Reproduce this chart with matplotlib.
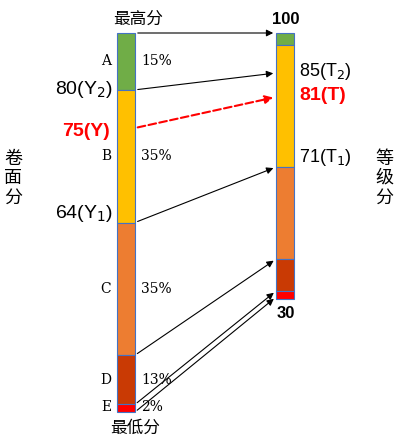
import matplotlib
matplotlib.use("Agg")
import matplotlib.pyplot as plt
from matplotlib.patches import Rectangle

plt.rcParams['font.family'] = ['Noto Sans CJK SC', 'DejaVu Sans']

grades = ["A", "B", "C", "D", "E"]
left_pct = [15, 35, 35, 13, 2]
right_share = [4.5, 45.9, 34.6, 12.0, 3.0]
colors = ["#70AD47", "#FFC000", "#ED7D31", "#C93A04", "#FF0000"]
left_labels = ["80(Y$_2$)", "64(Y$_1$)"]
right_labels = ["85(T$_2$)", "71(T$_1$)"]

fig = plt.figure(figsize=(4.01, 4.42), dpi=100)
ax = fig.add_axes([0, 0, 1, 1])
ax.set_xlim(0, 401); ax.set_ylim(442, 0); ax.axis("off")

LX, RX, W = 117, 276, 18
TOP, LH, RH = 33, 379, 266
SANS = ["Liberation Sans", "DejaVu Sans"]

def bounds(vals, h):
    b = [TOP]; s = sum(vals)
    for v in vals:
        b.append(b[-1] + v / s * h)
    return b

lb = bounds(left_pct, LH); rb = bounds(right_share, RH)
for i in range(5):
    ax.add_patch(Rectangle((LX, lb[i]), W, lb[i+1]-lb[i], fc=colors[i], ec="#4472C4", lw=0.8))
    ax.add_patch(Rectangle((RX, rb[i]), W, rb[i+1]-rb[i], fc=colors[i], ec="#4472C4", lw=0.8))
    ym = (lb[i] + lb[i+1]) / 2
    if i == 4: ym = lb[i] + 3
    ax.text(106, ym, grades[i], ha="center", va="center", fontsize=10, family="DejaVu Serif")
    ax.text(141, ym, f"{left_pct[i]}%", ha="left", va="center", fontsize=10, family="DejaVu Serif")

arr = dict(arrowstyle="-|>", color="black", lw=0.8, mutation_scale=10)
pairs = [(lb[0], rb[0]), (lb[1], 73), (lb[2], rb[2]), (lb[3], rb[3]), (lb[4], 291), (lb[5], 297)]
for yl, yr in pairs:
    ax.annotate("", xy=(RX, yr), xytext=(LX+W, yl), arrowprops=arr)
ax.annotate("", xy=(RX, 97), xytext=(LX+W, 128),
            arrowprops=dict(arrowstyle="-|>", color="#FF0000", lw=1.5, ls="--", mutation_scale=12))

ax.text(138, 19, "最高分", ha="center", va="center", fontsize=12)
ax.text(135, 428, "最低分", ha="center", va="center", fontsize=12)
ax.text(286, 19, "100", ha="center", va="center", fontsize=12, family=SANS, weight="bold")
ax.text(286, 313, "30", ha="center", va="center", fontsize=12, family=SANS, weight="bold")
ax.text(113, 89, left_labels[0], ha="right", va="center", fontsize=14, family=SANS)
ax.text(113, 213, left_labels[1], ha="right", va="center", fontsize=14, family=SANS)
ax.text(110, 131, "75(Y)", ha="right", va="center", fontsize=14, color="#FF0000", weight="bold", family=SANS)
ax.text(299, 72, right_labels[0], ha="left", va="center", fontsize=13, family=SANS)
ax.text(299, 96, "81(T)", ha="left", va="center", fontsize=14, color="#FF0000", weight="bold", family=SANS)
ax.text(299, 158, right_labels[1], ha="left", va="center", fontsize=13, family=SANS)
ax.text(13, 178, "卷\n面\n分", ha="center", va="center", fontsize=13, linespacing=1.1, family="Noto Serif CJK SC" if False else None)
ax.text(384, 178, "等\n级\n分", ha="center", va="center", fontsize=13, linespacing=1.1)

fig.savefig("out.png", dpi=100)
